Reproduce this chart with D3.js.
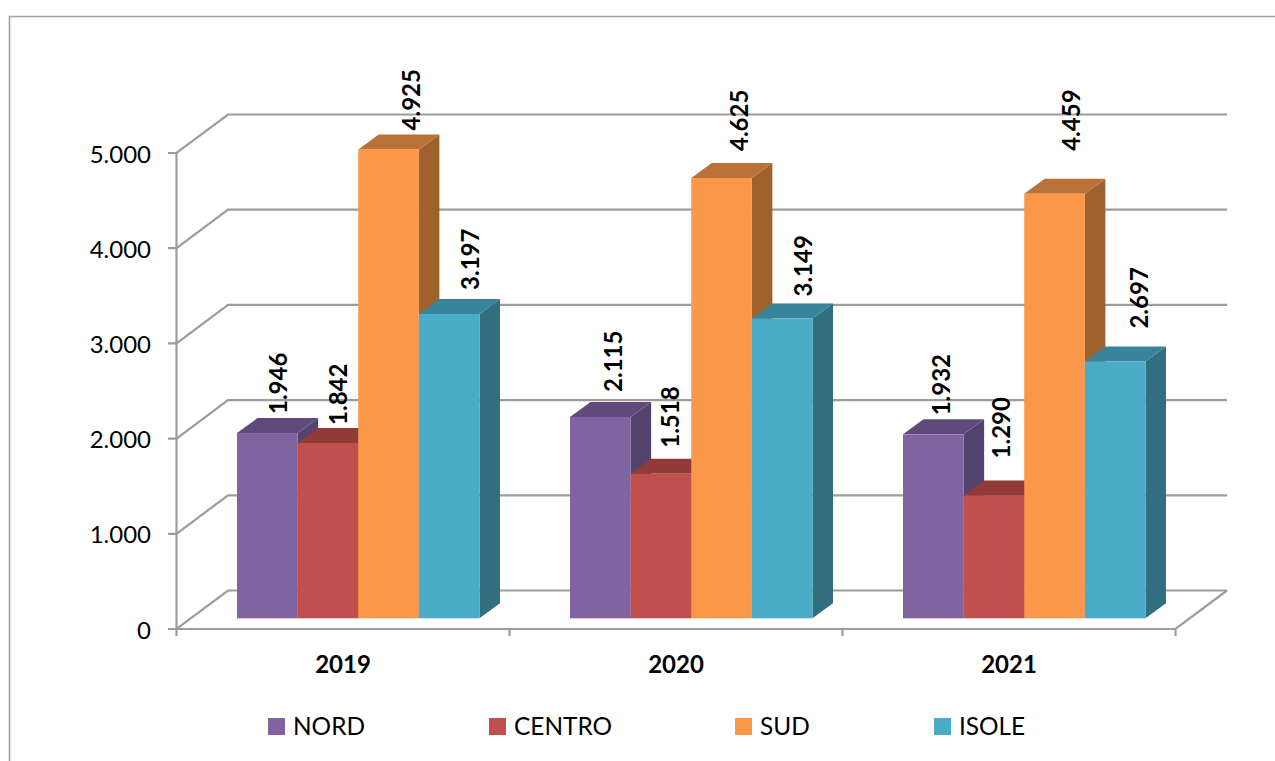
<!DOCTYPE html>
<html><head><meta charset="utf-8">
<script src="https://cdn.jsdelivr.net/npm/d3@7"></script>
<style>html,body{margin:0;padding:0;background:#fff}svg{display:block}text{font-family:Lato,sans-serif;fill:#000}</style>
</head><body><svg id="c" width="1275" height="761"></svg>
<script>
const years=["2019","2020","2021"];
const seriesNames=["NORD","CENTRO","SUD","ISOLE"];
const NORD=[1946,2115,1932];
const CENTRO=[1842,1518,1290];
const SUD=[4925,4625,4459];
const ISOLE=[3197,3149,2697];
const seriesValues=[NORD,CENTRO,SUD,ISOLE];
const yTicks=[0,1000,2000,3000,4000,5000];
const fmt=v=>d3.format(",")(v).replace(/,/g,".");

// layout constants
const colors=[
 {f:"#8064a2",t:"#604a7b",s:"#54436f"},
 {f:"#c0504d",t:"#923a38",s:"#803331"},
 {f:"#fa9748",t:"#ba7238",s:"#a0622c"},
 {f:"#4bacc8",t:"#38849a",s:"#316e80"}];
const grid="#9c9c9c";
const wallDx=51.5,wallDy=-38.5,barDx=20.5,barDy=-15;
const svg=d3.select("#c");
const x0=d3.scaleBand().domain(years).range([176.5,1175.5]);
const y=d3.scaleLinear().domain([0,5000]).range([629,153]);
const barLift=10.7;
const xS=d3.scaleBand().domain(seriesNames).range([0,242.5]);
const barLeft=(yr)=>x0(yr)+x0.bandwidth()/2-106;

// frame
svg.append("path").attr("d","M9.5,761V16.5H1275").attr("fill","none").attr("stroke","#a0a0a0").attr("stroke-width",1.6);

// walls
const g=svg.append("g").attr("fill","none").attr("stroke",grid).attr("stroke-width",2.2);
yTicks.forEach(t=>{
 const p=d3.path();
 p.moveTo(168,y(t));p.lineTo(176.5,y(t));p.lineTo(176.5+wallDx,y(t)+wallDy);p.lineTo(1227,y(t)+wallDy);
 g.append("path").attr("d",p.toString());
});
g.append("line").attr("x1",176.5).attr("x2",176.5).attr("y1",y(5000)).attr("y2",y(0));
g.append("path").attr("d",`M176.5,${y(0)}H1175.5L${1175.5+wallDx},${y(0)+wallDy}`);
[...years.map(v=>x0(v)),1175.5].forEach(px=>g.append("line").attr("x1",px).attr("x2",px).attr("y1",y(0)).attr("y2",y(0)+7));

// bars
years.forEach((yr,i)=>{
 seriesNames.forEach((nm,k)=>{
  const v=seriesValues[k][i];
  const l=barLeft(yr)+xS(nm),w=xS.bandwidth(),top=y(v)-barLift,bot=y(0)-barLift;
  const b=svg.append("g");
  b.append("path").attr("fill",colors[k].s).attr("d",`M${l+w},${top}L${l+w+barDx},${top+barDy}V${bot+barDy}L${l+w},${bot}Z`);
  b.append("path").attr("fill",colors[k].t).attr("d",`M${l},${top}L${l+barDx},${top+barDy}H${l+w+barDx}L${l+w},${top}Z`);
  b.append("rect").attr("x",l).attr("y",top).attr("width",w).attr("height",bot-top).attr("fill",colors[k].f);
 });
});

// label nudges relative to the bar (dx from centre, gap above top)
const labelDx=[[10,10,22,20],[12,9,17,20],[7.5,7,16,23]];
const labelGap=[[19,18,19,24],[25,26,27,22],[19,37,43,33]];
years.forEach((yr,i)=>{
 seriesNames.forEach((nm,k)=>{
  const v=seriesValues[k][i];
  const cx=barLeft(yr)+xS(nm)+xS.bandwidth()/2+labelDx[i][k];
  const by=y(v)-barLift-labelGap[i][k];
  svg.append("text").attr("transform",`translate(${cx},${by}) rotate(-90)`)
   .attr("dominant-baseline","central").attr("font-size",24).attr("font-weight",700).text(fmt(v));
 });
});

// y labels
yTicks.forEach(t=>svg.append("text").attr("x",151).attr("y",y(t)).attr("dominant-baseline","central")
 .attr("text-anchor","end").attr("font-size",24).text(fmt(t)));
// x labels
years.forEach(yr=>svg.append("text").attr("x",x0(yr)+x0.bandwidth()/2).attr("y",663.5).attr("dominant-baseline","central")
 .attr("text-anchor","middle").attr("font-size",24).attr("font-weight",700).text(yr));
// legend
const legPos=[268,489,735,934];
seriesNames.forEach((nm,k)=>{
 svg.append("rect").attr("x",legPos[k]).attr("y",718).attr("width",17).attr("height",17).attr("fill",colors[k].f);
 svg.append("text").attr("x",legPos[k]+25).attr("y",725.5).attr("dominant-baseline","central").attr("font-size",24.4).text(nm);
});
</script></body></html>
